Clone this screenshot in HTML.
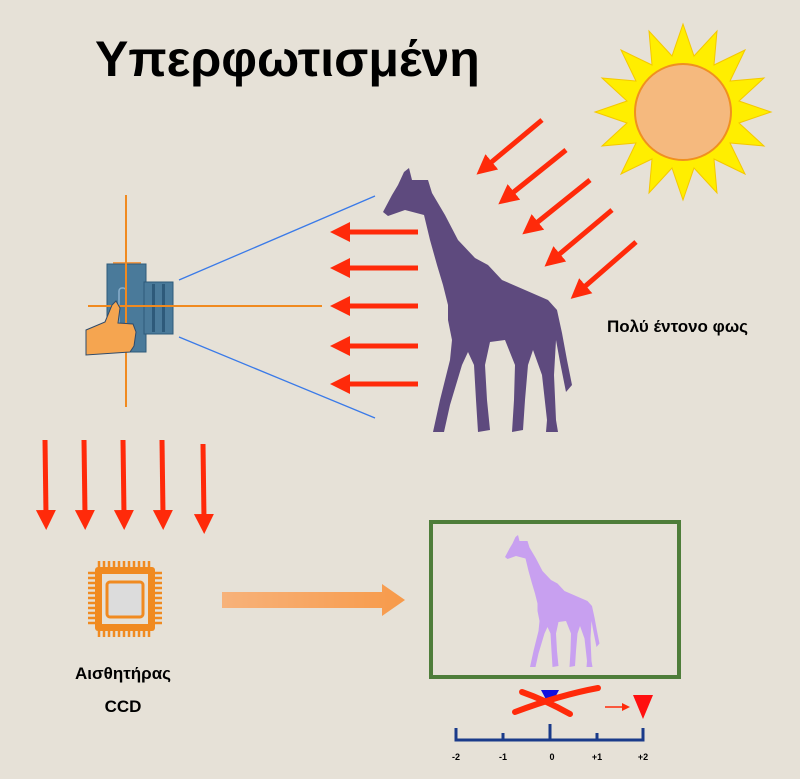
<!DOCTYPE html>
<html><head><meta charset="utf-8"><style>
html,body{margin:0;padding:0;background:#e6e1d7;}
svg{display:block;}
text{font-family:"Liberation Sans",sans-serif;font-weight:bold;}
</style></head><body>
<svg width="800" height="779" viewBox="0 0 800 779" xmlns="http://www.w3.org/2000/svg">
<defs>
<marker id="ah" markerWidth="4" markerHeight="4" refX="1" refY="2" orient="auto" markerUnits="strokeWidth"><path d="M0,0 L4,2 L0,4 Z" fill="#ff2a0a"/></marker>
<linearGradient id="og" x1="0" x2="1"><stop offset="0" stop-color="#f7b27a"/><stop offset="1" stop-color="#f79a4a"/></linearGradient>
<path id="gir" d="M383,212 L392,195 L398,185 L404,172 L409,168 L412,180 L428,180 L432,193 L445,215 L458,240 L475,258 L488,265 L502,280 L525,290 L548,300 L557,310 L562,333 L567,360 L572,385 L566,392 L560,362 L556,340 L554,375 L556,420 L558,432 L546,432 L547,420 L542,375 L533,350 L528,365 L525,400 L523,430 L512,432 L514,400 L515,365 L505,340 L490,342 L485,365 L487,400 L490,430 L478,432 L476,400 L474,365 L468,352 L462,365 L450,405 L444,432 L433,432 L440,400 L450,360 L452,340 L448,320 L448,305 L443,285 L437,265 L430,240 L424,215 L405,210 L388,216 Z"/>
</defs>
<rect width="800" height="779" fill="#e6e1d7"/>
<text x="95" y="76" font-size="50" fill="#000">Υπερφωτισμένη</text>
<!-- sun -->
<g transform="translate(683,112)">
<polygon fill="#ffee00" stroke="#f5c800" stroke-width="1" points="
0,-88 11,-56 34,-81 31,-47 62,-62 47,-31 81,-34 56,-11 88,0 56,11 81,34 47,31 62,62 31,47 34,81 11,56 0,88 -11,56 -34,81 -31,47 -62,62 -47,31 -81,34 -56,11 -88,0 -56,-11 -81,-34 -47,-31 -62,-62 -31,-47 -34,-81 -11,-56"/>
<circle r="48" fill="#f5b97e" stroke="#f09020" stroke-width="2"/>
</g>
<!-- diagonal arrows -->
<g stroke="#ff2a0a" stroke-width="5" marker-end="url(#ah)">
<line x1="542" y1="120" x2="488" y2="165"/>
<line x1="566" y1="150" x2="510" y2="195"/>
<line x1="590" y1="180" x2="534" y2="225"/>
<line x1="612" y1="210" x2="556" y2="257"/>
<line x1="636" y1="242" x2="582" y2="289"/>
</g>
<!-- giraffe -->
<use href="#gir" fill="#5e4a7e"/>
<text x="607" y="332" font-size="17" fill="#000">Πολύ έντονο φως</text>
<!-- horizontal arrows -->
<g stroke="#ff2a0a" stroke-width="5" marker-end="url(#ah)">
<line x1="418" y1="232" x2="345" y2="232"/>
<line x1="418" y1="268" x2="345" y2="268"/>
<line x1="418" y1="306" x2="345" y2="306"/>
<line x1="418" y1="346" x2="345" y2="346"/>
<line x1="418" y1="384" x2="345" y2="384"/>
</g>
<!-- camera -->
<line x1="179" y1="280" x2="375" y2="196" stroke="#3a7ae8" stroke-width="1.3"/>
<line x1="179" y1="337" x2="375" y2="418" stroke="#3a7ae8" stroke-width="1.3"/>
<rect x="113" y="262" width="28" height="3" fill="#f09a4a"/>
<rect x="107" y="264" width="39" height="88" fill="#4a7a9a" stroke="#2e5a7a"/>
<rect x="144" y="282" width="29" height="52" fill="#4a7a9a" stroke="#2e5a7a"/>
<rect x="152" y="284" width="3" height="48" fill="#2e5a7a"/>
<rect x="162" y="284" width="3" height="48" fill="#2e5a7a"/>
<rect x="119" y="288" width="7" height="44" rx="3" fill="none" stroke="#8ab0cc" stroke-width="1.5"/>
<line x1="126" y1="195" x2="126" y2="407" stroke="#f08a20" stroke-width="2"/>
<line x1="88" y1="306" x2="322" y2="306" stroke="#f08a20" stroke-width="2"/>
<path d="M86,330 L105,322 L112,305 L116,301 L120,308 L118,323 L133,324 L136,332 L134,346 L130,352 L86,355 Z" fill="#f5a550" stroke="#2e4a6a" stroke-width="1"/>
<!-- vertical arrows -->
<g stroke="#ff2a0a" stroke-width="5" marker-end="url(#ah)">
<line x1="45" y1="440" x2="46" y2="515"/>
<line x1="84" y1="440" x2="85" y2="515"/>
<line x1="123" y1="440" x2="124" y2="515"/>
<line x1="162" y1="440" x2="163" y2="515"/>
<line x1="203" y1="444" x2="204" y2="519"/>
</g>
<!-- chip -->
<rect x="95" y="567" width="60" height="64" rx="3" fill="#f08a20"/>
<g stroke="#f08a20" stroke-width="2.5">
<path d="M99,561v8M104,561v8M109,561v8M114,561v8M119,561v8M124,561v8M129,561v8M134,561v8M139,561v8M144,561v8M149,561v8
M99,629v8M104,629v8M109,629v8M114,629v8M119,629v8M124,629v8M129,629v8M134,629v8M139,629v8M144,629v8M149,629v8
M88,573h8M88,578h8M88,583h8M88,588h8M88,593h8M88,598h8M88,603h8M88,608h8M88,613h8M88,618h8M88,623h8
M154,573h8M154,578h8M154,583h8M154,588h8M154,593h8M154,598h8M154,603h8M154,608h8M154,613h8M154,618h8M154,623h8"/>
</g>
<rect x="102" y="574" width="46" height="50" fill="#e6e1d7"/>
<rect x="107" y="582" width="36" height="35" rx="3" fill="#dcdcdc" stroke="#f08a20" stroke-width="3"/>
<text x="123" y="679" font-size="17" text-anchor="middle">Αισθητήρας</text>
<text x="123" y="712" font-size="17" text-anchor="middle">CCD</text>
<!-- big arrow -->
<path d="M222,592 L382,592 L382,584 L405,600 L382,616 L382,608 L222,608 Z" fill="url(#og)"/>
<!-- frame -->
<rect x="431" y="522" width="248" height="155" fill="#e6e1d7" stroke="#4e7d3a" stroke-width="4"/>
<use href="#gir" fill="#c8a0f0" transform="translate(313.5,451) scale(0.5)"/>
<!-- scale -->
<g stroke="#1a3a8a" stroke-width="3" fill="none">
<path d="M456,728 V740 H643 V728"/>
<path d="M503,733 V740 M550,724 V740 M597,733 V740"/>
</g>
<polygon points="541,690 559,690 550,707" fill="#1010e0"/>
<path d="M515,712 Q560,695 598,688" stroke="#ff2a0a" stroke-width="6" fill="none" stroke-linecap="round"/>
<path d="M522,692 Q545,700 570,714" stroke="#ff2a0a" stroke-width="6" fill="none" stroke-linecap="round"/>
<line x1="605" y1="707" x2="624" y2="707" stroke="#ff2a0a" stroke-width="1.5"/>
<polygon points="622,703 630,707 622,711" fill="#ff2a0a"/>
<polygon points="633,695 653,695 643,719" fill="#ff1010"/>
<g font-size="9" text-anchor="middle">
<text x="456" y="760">-2</text><text x="503" y="760">-1</text><text x="552" y="760">0</text><text x="597" y="760">+1</text><text x="643" y="760">+2</text>
</g>
</svg>
</body></html>
